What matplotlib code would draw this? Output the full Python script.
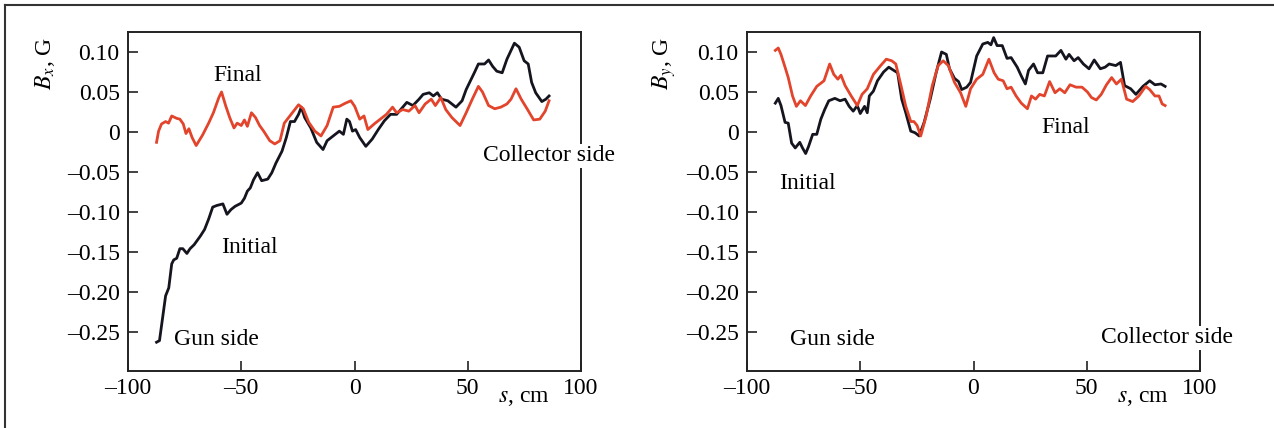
import matplotlib
matplotlib.use("Agg")
import matplotlib.pyplot as plt
from matplotlib.lines import Line2D

plt.rcParams['font.family'] = ['Liberation Serif', 'DejaVu Serif']
plt.rcParams['mathtext.fontset'] = 'stix'
plt.rcParams['font.size'] = 17

# ---------------- data ----------------
# Left panel (Bx)
bx_init_s = [-87.4, -86.1, -84.7, -83.4, -82.0, -80.7, -79.8, -78.5, -77.1, -75.8, -74.0, -72.6, -70.8, -68.0,
             -66.2, -64.4, -62.6, -60.8, -58.1, -56.3, -54.5, -52.7, -50.0, -48.6, -47.3, -46.0, -44.6, -42.8,
             -41.0, -38.3, -36.5, -34.7, -32.0, -30.1, -28.3, -26.5, -24.7, -23.5, -22.0, -19.3, -16.7, -13.9,
             -12.1, -9.4, -6.7, -4.9, -3.4, -2.2, -0.9, 0.5, 2.3, 5.0, 7.8, 10.5, 13.2, 15.9, 18.6, 21.3, 23.1,
             25.8, 28.5, 30.3, 33.0, 34.8, 36.6, 38.4, 41.2, 44.8, 47.5, 49.3, 52.9, 54.7, 57.4, 59.2, 61.0, 62.8,
             65.2, 67.3, 70.6, 72.7, 74.9, 76.7, 78.2, 80.0, 82.7, 84.5, 85.9]
bx_init_v = [-0.263, -0.261, -0.232, -0.205, -0.195, -0.165, -0.160, -0.158, -0.146, -0.146, -0.152, -0.146,
             -0.141, -0.130, -0.122, -0.109, -0.094, -0.092, -0.090, -0.103, -0.097, -0.093, -0.089, -0.083,
             -0.074, -0.070, -0.060, -0.051, -0.061, -0.059, -0.051, -0.039, -0.024, -0.007, 0.013, 0.013, 0.022,
             0.031, 0.018, 0.005, -0.013, -0.022, -0.011, -0.005, 0.001, -0.003, 0.016, 0.013, 0.001, 0.003,
             -0.007, -0.018, -0.009, 0.003, 0.014, 0.022, 0.022, 0.031, 0.037, 0.033, 0.041, 0.047, 0.049, 0.045,
             0.049, 0.041, 0.039, 0.031, 0.039, 0.053, 0.074, 0.085, 0.085, 0.090, 0.082, 0.076, 0.074, 0.091,
             0.111, 0.106, 0.089, 0.085, 0.062, 0.049, 0.038, 0.041, 0.045]

bx_final_s = [-87.4, -86.5, -85.2, -83.4, -82.1, -80.7, -78.5, -77.1, -75.6, -74.4, -73.1, -71.7, -69.9, -67.1,
              -64.4, -62.3, -59.9, -58.7, -56.9, -55.1, -53.2, -51.8, -50.0, -48.6, -47.3, -45.5, -43.7, -41.9,
              -40.1, -37.4, -35.2, -32.9, -31.0, -28.0, -24.7, -22.6, -20.2, -17.5, -14.8, -12.1, -9.4, -6.7,
              -4.0, -1.6, 0.1, 2.3, 4.2, 5.9, 8.7, 11.4, 14.1, 16.8, 18.6, 21.3, 24.0, 26.7, 28.5, 31.2, 33.9,
              35.7, 38.1, 40.3, 43.0, 46.6, 49.3, 52.0, 54.7, 56.5, 59.2, 61.9, 64.6, 67.3, 69.1, 71.3, 73.6,
              76.4, 79.1, 81.8, 84.2, 85.9]
bx_final_v = [-0.013, 0.001, 0.010, 0.013, 0.011, 0.020, 0.017, 0.016, 0.010, -0.002, 0.004, -0.007, -0.017,
              -0.004, 0.011, 0.024, 0.043, 0.050, 0.033, 0.018, 0.005, 0.011, 0.008, 0.015, 0.007, 0.024, 0.018,
              0.008, 0.001, -0.011, -0.015, -0.011, 0.011, 0.022, 0.034, 0.029, 0.012, 0.001, -0.005, 0.008,
              0.031, 0.032, 0.036, 0.039, 0.032, 0.016, 0.020, 0.003, 0.010, 0.016, 0.022, 0.031, 0.024, 0.028,
              0.026, 0.033, 0.024, 0.035, 0.041, 0.033, 0.043, 0.028, 0.018, 0.008, 0.024, 0.041, 0.057, 0.050,
              0.033, 0.029, 0.031, 0.035, 0.041, 0.054, 0.041, 0.028, 0.015, 0.016, 0.026, 0.039]

# Right panel (By)
by_init_s = [-87.5, -86.2, -85.0, -83.2, -81.8, -80.3, -78.7, -76.7, -75.5, -74.1, -72.8, -71.0, -69.2, -67.4,
             -65.7, -63.9, -61.2, -58.9, -56.7, -54.9, -53.1, -51.3, -50.0, -48.1, -46.9, -46.0, -44.2, -42.4,
             -39.7, -37.4, -35.2, -33.5, -31.7, -29.9, -27.7, -25.8, -24.0, -21.8, -19.1, -16.5, -14.1, -12.0,
             -10.6, -8.4, -6.6, -5.2, -3.0, -1.3, 1.4, 4.1, 6.3, 7.7, 8.9, 10.4, 12.7, 14.8, 16.6, 19.3, 21.1,
             22.9, 24.3, 26.5, 28.3, 30.6, 32.7, 36.3, 38.6, 40.8, 42.2, 44.4, 46.2, 48.5, 51.0, 53.3, 56.0,
             58.1, 59.9, 62.8, 64.9, 66.7, 69.4, 71.7, 74.8, 77.8, 80.1, 82.8, 84.6]
by_init_v = [0.036, 0.042, 0.033, 0.012, 0.011, -0.014, -0.020, -0.013, -0.020, -0.027, -0.018, -0.003, -0.003,
             0.016, 0.028, 0.039, 0.042, 0.039, 0.041, 0.032, 0.026, 0.033, 0.023, 0.032, 0.024, 0.045, 0.051,
             0.064, 0.075, 0.081, 0.077, 0.074, 0.041, 0.024, 0.001, -0.001, -0.005, 0.012, 0.041, 0.074, 0.100,
             0.097, 0.079, 0.067, 0.063, 0.053, 0.056, 0.062, 0.095, 0.110, 0.112, 0.109, 0.118, 0.108, 0.108,
             0.092, 0.093, 0.081, 0.070, 0.060, 0.077, 0.085, 0.074, 0.074, 0.095, 0.095, 0.102, 0.091, 0.097,
             0.089, 0.093, 0.085, 0.079, 0.090, 0.079, 0.081, 0.085, 0.083, 0.087, 0.058, 0.054, 0.047, 0.057,
             0.064, 0.059, 0.060, 0.057]

by_final_s = [-87.5, -86.2, -85.0, -83.2, -81.8, -79.9, -78.2, -76.4, -74.2, -71.9, -69.2, -66.0, -63.5, -61.7,
              -59.9, -58.5, -56.7, -54.0, -51.3, -49.2, -46.9, -44.2, -41.0, -38.5, -36.1, -34.3, -32.0, -29.9,
              -27.7, -26.3, -24.9, -23.3, -20.9, -18.2, -15.6, -13.4, -11.1, -8.4, -5.7, -3.4, -1.3, 1.4, 4.1,
              6.8, 9.1, 10.9, 13.1, 14.8, 16.6, 18.8, 21.1, 23.8, 25.6, 27.4, 29.2, 31.3, 33.6, 36.0, 38.1, 40.3,
              42.6, 45.3, 47.9, 50.3, 52.1, 54.2, 56.4, 58.7, 61.0, 63.1, 65.3, 67.6, 70.3, 73.0, 76.0, 77.8,
              80.1, 81.9, 83.3, 84.6]
by_final_v = [0.102, 0.105, 0.097, 0.081, 0.068, 0.045, 0.032, 0.039, 0.033, 0.045, 0.057, 0.064, 0.085, 0.072,
              0.066, 0.071, 0.058, 0.045, 0.033, 0.047, 0.054, 0.072, 0.083, 0.091, 0.089, 0.085, 0.058, 0.032,
              0.013, 0.013, 0.008, -0.005, 0.020, 0.058, 0.083, 0.089, 0.083, 0.062, 0.049, 0.032, 0.054, 0.066,
              0.072, 0.091, 0.074, 0.066, 0.064, 0.054, 0.056, 0.045, 0.036, 0.029, 0.045, 0.041, 0.047, 0.045,
              0.063, 0.049, 0.054, 0.049, 0.059, 0.056, 0.056, 0.050, 0.043, 0.040, 0.047, 0.059, 0.068, 0.060,
              0.066, 0.041, 0.038, 0.045, 0.057, 0.053, 0.045, 0.045, 0.035, 0.033]

x_ticks = [-100, -50, 0, 50, 100]
x_ticklabels = ['\u2013100', '\u201350', '0', '50', '100']
y_ticks = [0.10, 0.05, 0.0, -0.05, -0.10, -0.15, -0.20, -0.25]
y_ticklabels = ['0.10', '0.05', '0', '\u20130.05', '\u20130.10', '\u20130.15', '\u20130.20', '\u20130.25']

BLACK = '#15151f'
RED = '#e2442c'
W, H = 1274, 428
FS = 17

fig = plt.figure(figsize=(W / 100, H / 100), dpi=100)

# outer frame (top and left edges)
fig.add_artist(Line2D([5 / W, 5 / W], [0, 1 - 5 / H], color='#333333', lw=1.5))
fig.add_artist(Line2D([5 / W, 1], [1 - 5 / H, 1 - 5 / H], color='#333333', lw=1.5))

panels = [
    dict(left=128, xs=(bx_init_s, bx_final_s), ys=(bx_init_v, bx_final_v), ylabel='$B_x$, G',
         texts=[('Final', -51.4, 0.071), ('Initial', -46.6, -0.145), ('Gun side', -61.1, -0.26),
                ('Collector side', 85.9, -0.030)]),
    dict(left=747, xs=(by_init_s, by_final_s), ys=(by_init_v, by_final_v), ylabel='$B_y$, G',
         texts=[('Initial', -73.5, -0.065), ('Final', 40.8, 0.005), ('Gun side', -62.5, -0.26),
                ('Collector side', 85.4, -0.2575)]),
]

bottom_px, top_px, width_px = 371, 32, 453
for p in panels:
    ax = fig.add_axes([p['left'] / W, 1 - bottom_px / H, width_px / W, (bottom_px - top_px) / H])
    ax.plot(p['xs'][0], p['ys'][0], color=BLACK, lw=2.0, zorder=3)
    ax.plot(p['xs'][1], p['ys'][1], color=RED, lw=2.0, zorder=3)
    ax.set_xlim(-100, 100)
    ax.set_ylim(-0.299, 0.125)
    ax.set_xticks(x_ticks)
    ax.set_xticklabels(x_ticklabels)
    ax.set_yticks(y_ticks)
    ax.set_yticklabels(y_ticklabels)
    ax.tick_params(direction='in', length=7, width=1.2, colors='#222222', labelcolor='black',
                   labelsize=FS, top=False, right=False)
    ax.tick_params(axis='x', pad=5)
    ax.tick_params(axis='y', pad=6)
    for sp in ax.spines.values():
        sp.set_linewidth(1.4)
        sp.set_color('#222222')
        sp.set_zorder(2)
    for t, x, y in p['texts']:
        ax.text(x, y, t, ha='center', va='center', fontsize=FS, zorder=5,
                bbox=dict(facecolor='white', edgecolor='none', pad=1.0))
    ax.text(-0.183, 0.985, p['ylabel'], transform=ax.transAxes, rotation=90,
            ha='center', va='top', fontsize=FS)
    ax.text(0.874, -0.077, '$s$, cm', transform=ax.transAxes, ha='center', va='center', fontsize=FS)

fig.savefig('out.png', dpi=100)
